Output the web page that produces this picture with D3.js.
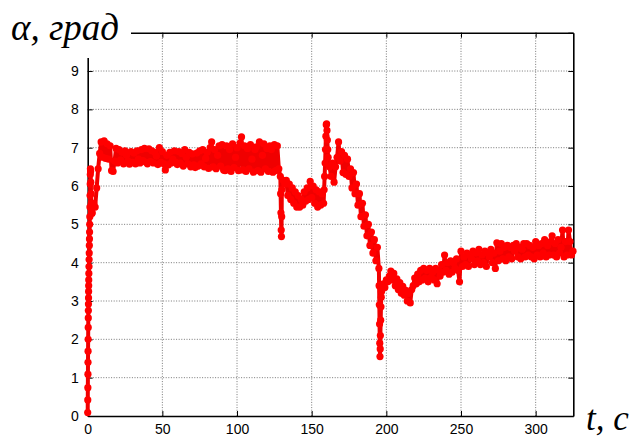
<!DOCTYPE html>
<html><head><meta charset="utf-8">
<script src="https://cdn.jsdelivr.net/npm/d3@7"></script>
<style>body{margin:0;background:#fff}svg{display:block}</style></head>
<body><svg id="c" width="637" height="437"></svg>
<script>
// ---- data ----
const xTicks = [0, 50, 100, 150, 200, 250, 300];
const yTicks = [0, 1, 2, 3, 4, 5, 6, 7, 8, 9, 10];
const yTickLabels = ["0", "1", "2", "3", "4", "5", "6", "7", "8", "9", ""];
const yLabel = "α, град";
const xLabel = "t, c";

// fast initial rise (explicit times, s)
const riseTime  = [0.00,0.05,0.10,0.15,0.20,0.25,0.30,0.35,0.40,0.45,0.50,0.55,0.60,0.65,0.70,0.78,0.86,0.94,1.02,1.10,1.18,1.26,1.34,1.42,1.50,1.58,1.66,1.74,1.82,1.95,2.10,2.25,2.40,2.60,2.80];
const riseAlpha = [0.09,0.42,0.74,1.09,1.40,1.69,2.00,2.31,2.56,2.75,2.92,3.08,3.25,3.40,3.55,3.72,3.90,4.08,4.25,4.45,4.62,4.80,5.00,5.20,5.45,5.75,6.05,6.30,6.45,6.38,6.10,5.80,5.55,5.35,5.28];

// main record, sampled every second from t = 3 s
const mainStart = 3;
const mainStep = 1;
const mainAlpha = [
5.30,5.55,5.45,5.95,6.45,6.85,7.15,6.75,7.18,6.72,
7.10,6.70,7.05,6.40,6.38,6.65,6.98,6.60,6.95,6.68,
6.88,6.58,6.92,6.80,6.65,6.57,6.90,6.62,6.86,6.58,
6.92,6.70,6.60,6.95,6.66,6.98,6.62,6.58,6.97,6.64,
6.92,6.60,6.88,6.78,6.56,7.00,6.62,6.90,6.58,6.42,
6.80,6.55,6.88,6.60,6.70,6.92,6.62,6.56,6.90,6.60,
6.85,6.52,6.95,6.75,6.58,6.88,6.50,6.84,6.55,6.48,
6.86,6.52,6.92,6.58,6.95,6.50,6.72,6.88,6.46,7.00,
7.15,6.50,6.95,6.45,6.80,7.05,6.52,7.08,6.42,6.40,
7.05,6.45,6.95,6.38,7.10,6.48,6.75,7.00,6.40,7.12,
7.28,6.42,7.05,6.38,6.98,6.45,7.08,6.70,6.36,6.95,
7.02,6.40,7.15,6.36,6.80,7.10,6.45,6.98,6.38,7.05,
6.95,6.36,7.08,6.40,7.05,6.45,6.25,5.90,6.15,6.05,
6.15,5.75,6.05,5.65,5.95,5.55,5.85,5.45,5.75,5.45,
5.65,5.50,5.85,5.60,5.95,5.65,6.12,5.70,6.00,5.55,
5.90,5.45,5.85,5.50,5.80,5.55,6.60,7.62,6.75,6.50,
6.25,6.60,6.10,6.50,6.75,7.15,6.65,6.90,6.35,6.80,
6.30,6.70,6.25,6.45,5.95,6.35,5.80,6.05,5.50,5.80,
5.20,5.55,4.95,5.25,4.70,5.00,4.45,4.80,4.25,4.60,
4.05,4.40,3.85,2.10,3.30,3.45,3.35,3.55,3.50,3.65,
3.78,3.55,3.72,3.40,3.58,3.30,3.48,3.20,3.38,3.15,
3.28,3.00,3.20,2.95,3.30,3.40,3.60,3.45,3.70,3.50,
3.80,3.55,3.85,3.60,3.80,3.50,3.85,3.62,3.75,3.55,
3.85,3.45,3.80,3.65,3.95,3.75,4.20,3.80,4.00,3.70,
4.05,3.75,4.00,3.85,4.10,3.80,3.50,4.30,3.90,4.15,
3.95,4.25,3.90,4.20,4.10,4.30,3.95,4.25,4.05,4.35,
3.95,4.20,4.00,4.30,3.90,4.25,4.15,4.35,4.00,4.25,
3.85,4.52,4.05,4.30,4.50,4.10,4.40,4.05,4.45,4.15,
4.40,4.10,4.45,4.30,4.50,4.15,4.40,4.10,4.35,4.50,
4.15,4.50,4.20,4.45,4.15,4.40,4.10,4.55,4.20,4.45,
4.15,4.50,4.25,4.60,4.15,4.45,4.20,4.55,4.70,4.20,
4.50,4.15,4.60,4.25,4.40,4.85,4.15,4.55,4.20,4.85,
4.55,4.20,4.30
];

// finer samples inside the fast transients
const detailTime  = [129.2,129.4,129.6,129.75,129.9, 158.33,158.66,159.25,159.5,159.75,160.25,160.5,160.75, 195.15,195.3,195.45,195.6,195.75,195.9,196.2,196.4,196.6,196.8];
const detailAlpha = [5.80, 5.30, 4.85, 4.68,  5.20,  5.90,  6.25,  6.95,  7.30, 7.60,  7.45,  7.20, 6.95,   3.40, 2.90, 2.40, 1.90, 1.55, 1.75, 2.50, 2.85, 3.10, 3.25];

// ---- build series ----
const pts = [];
riseTime.forEach((t, i) => pts.push({t, a: riseAlpha[i]}));
mainAlpha.forEach((a, i) => pts.push({t: mainStart + i * mainStep, a}));
detailTime.forEach((t, i) => pts.push({t, a: detailAlpha[i]}));
pts.sort((p, q) => p.t - q.t);

// ---- layout ----
const L = 87.7, R = 573.3, T = 32.7, B = 416;
const x = d3.scaleLinear().domain([0, 325.2]).range([L, R]);
const y = d3.scaleLinear().domain([0, 10]).range([B, T]);
const svg = d3.select("#c");
const font = "'Liberation Sans', Arial, Helvetica, sans-serif";

// grid
const grid = svg.append("g").attr("stroke", "#555").attr("stroke-width", 0.8).attr("stroke-dasharray", "1,1.6");
grid.selectAll(".gx").data(xTicks.filter(d => d > 0)).join("line")
  .attr("x1", d => x(d)).attr("x2", d => x(d)).attr("y1", T).attr("y2", B);
grid.selectAll(".gy").data(yTicks.filter(d => d > 0 && d < 10)).join("line")
  .attr("x1", L).attr("x2", R).attr("y1", d => y(d)).attr("y2", d => y(d));

// axes via d3 axes (inward ticks)
const tl = 5;
const axB = d3.axisBottom(x).tickValues(xTicks).tickSizeInner(-tl).tickSizeOuter(0).tickPadding(8);
const axT = d3.axisTop(x).tickValues(xTicks).tickSizeInner(-tl).tickSizeOuter(0).tickFormat("");
const axL = d3.axisLeft(y).tickValues(yTicks).tickSizeInner(-tl).tickSizeOuter(0).tickPadding(9).tickFormat((d, i) => yTickLabels[i]);
const axR = d3.axisRight(y).tickValues(yTicks).tickSizeInner(-tl).tickSizeOuter(0).tickFormat("");

function style(g) {
  g.select(".domain").attr("stroke", "#000").attr("stroke-width", 1.6);
  g.selectAll(".tick line").attr("stroke", "#000").attr("stroke-width", 1);
  g.selectAll(".tick text").attr("fill", "#000").style("font-family", font).style("font-size", "14px");
}
svg.append("g").attr("transform", `translate(0,${B})`).call(axB).call(style);
svg.append("g").attr("transform", `translate(0,${T})`).call(axT).call(style);
svg.append("g").attr("transform", `translate(${L},0)`).call(axL).call(style);
svg.append("g").attr("transform", `translate(${R},0)`).call(axR).call(style);

// data
const line = d3.line().x(d => x(d.t)).y(d => y(d.a));
svg.append("path").datum(pts).attr("d", line).attr("fill", "none").attr("stroke", "#f00000")
  .attr("stroke-width", 4).attr("stroke-linejoin", "round");
svg.append("g").attr("fill", "#ff0000").selectAll("circle").data(pts).join("circle")
  .attr("cx", d => x(d.t)).attr("cy", d => y(d.a)).attr("r", 3.6);

// axis titles on white patches
svg.append("rect").attr("x", 0).attr("y", 0).attr("width", 131).attr("height", 58).attr("fill", "#fff");
svg.append("text").attr("x", 11).attr("y", 40).text(yLabel)
  .style("font-family", "'Liberation Serif','Times New Roman',serif").style("font-style", "italic").style("font-size", "37px").attr("fill", "#000");
svg.append("rect").attr("x", 580).attr("y", 395).attr("width", 57).attr("height", 42).attr("fill", "#fff");
svg.append("text").attr("x", 586).attr("y", 430).text(xLabel)
  .style("font-family", "'Liberation Serif','Times New Roman',serif").style("font-style", "italic").style("font-size", "35px").attr("fill", "#000");
</script>
</body></html>
